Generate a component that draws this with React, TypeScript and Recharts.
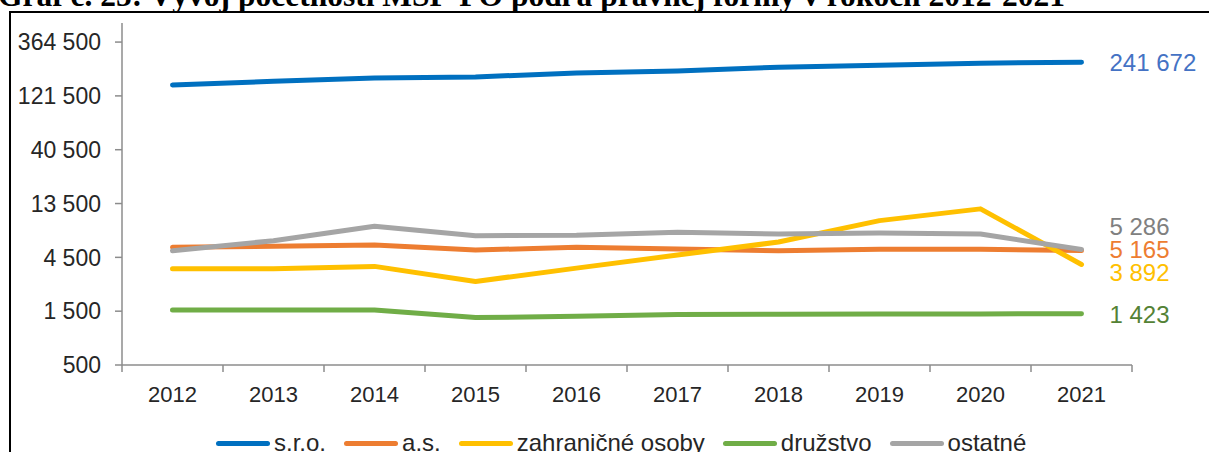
import React from 'react';
import { LineChart, Line, XAxis, YAxis } from 'recharts';

const years = [2012, 2013, 2014, 2015, 2016, 2017, 2018, 2019, 2020, 2021];
const sro = [151800, 163700, 175200, 178800, 194100, 202200, 218200, 227300, 236900, 241672];
const as = [5525, 5640, 5790, 5227, 5525, 5334, 5150, 5302, 5302, 5165];
const zahranicne = [3562, 3562, 3742, 2752, 3613, 4717, 6157, 9527, 12110, 3892];
const druzstvo = [1537, 1537, 1537, 1316, 1351, 1399, 1408, 1415, 1418, 1423];
const ostatne = [5150, 6325, 8495, 7005, 7065, 7510, 7255, 7405, 7255, 5286];

const yTicks = [500, 1500, 4500, 13500, 40500, 121500, 364500];
const xTicks = [2011.5, 2012, 2012.5, 2013, 2013.5, 2014, 2014.5, 2015, 2015.5, 2016, 2016.5, 2017, 2017.5, 2018, 2018.5, 2019, 2019.5, 2020, 2020.5, 2021, 2021.5];

const title = 'Graf č. 25: Vývoj početnosti MSP-PO podľa právnej formy v rokoch 2012-2021';

const series = [
  { key: 'sro', name: 's.r.o.', values: sro, color: '#0070C0', labelColor: '#4472C4', labelDy: 0 },
  { key: 'as', name: 'a.s.', values: as, color: '#ED7D31', labelColor: '#ED7D31', labelDy: -1 },
  { key: 'zahr', name: 'zahraničné osoby', values: zahranicne, color: '#FFC000', labelColor: '#FFC000', labelDy: 8 },
  { key: 'druz', name: 'družstvo', values: druzstvo, color: '#70AD47', labelColor: '#548235', labelDy: 1 },
  { key: 'ost', name: 'ostatné', values: ostatne, color: '#A5A5A5', labelColor: '#808080', labelDy: -23 },
];

const data = years.map((year, i) => {
  const row: Record<string, number> = { year };
  series.forEach((s) => {
    row[s.key] = s.values[i];
  });
  return row;
});

const fmt = (v: number) => String(Math.round(v)).replace(/\B(?=(\d{3})+(?!\d))/g, ' ');

const FONT = '"Liberation Sans", Arial, sans-serif';
const AXIS = '#8C8C8C';
const TEXT = '#262626';

const XTick = (props: any) => {
  const { x, y, payload } = props;
  const v = payload.value;
  if (Number.isInteger(v)) {
    return (
      <text x={x} y={y + 36.5} textAnchor="middle" fontFamily={FONT} fontSize={22} fill={TEXT}>
        {v}
      </text>
    );
  }
  return <line x1={x} x2={x} y1={y} y2={y + 7} stroke={AXIS} strokeWidth={1.5} />;
};

const makeLabel = (color: string, dy: number) => (props: any) => {
  const { x, y, index, value } = props;
  if (index !== years.length - 1) return <g />;
  return (
    <text
      x={x + 28}
      y={y + dy}
      dy="0.36em"
      textAnchor="start"
      fontFamily={FONT}
      fontSize={24}
      fill={color}
    >
      {fmt(value)}
    </text>
  );
};

export default function App() {
  return (
    <div style={{ position: 'absolute', left: 0, top: 0, width: 1209, height: 452, overflow: 'hidden', background: '#fff' }}>
      <LineChart
        width={1209}
        height={452}
        data={data}
        margin={{ top: 23, right: 77, left: 0, bottom: 57 }}
      >
        <XAxis
          dataKey="year"
          type="number"
          domain={[2011.5, 2021.5]}
          ticks={xTicks}
          interval={0}
          tickSize={0}
          tickMargin={0}
          tickLine={false}
          axisLine={{ stroke: AXIS, strokeWidth: 1.5 }}
          tick={XTick}
          height={30}
          allowDataOverflow
        />
        <YAxis
          type="number"
          scale="log"
          domain={[500, 538000]}
          ticks={yTicks}
          interval={0}
          allowDataOverflow
          width={122}
          tickSize={7}
          tickMargin={14}
          tickLine={{ stroke: AXIS, strokeWidth: 1.5 }}
          axisLine={{ stroke: AXIS, strokeWidth: 1.5 }}
          tick={{ fontFamily: FONT, fontSize: 23, fill: TEXT }}
          tickFormatter={fmt}
        />
        {series.map((s) => (
          <Line
            key={s.key}
            dataKey={s.key}
            name={s.name}
            stroke={s.color}
            strokeWidth={5}
            strokeLinecap="round"
            strokeLinejoin="round"
            dot={false}
            activeDot={false}
            type="linear"
            isAnimationActive={false}
            label={makeLabel(s.labelColor, s.labelDy)}
          />
        ))}
      </LineChart>
      <svg width={1209} height={452} style={{ position: 'absolute', left: 0, top: 0, pointerEvents: 'none' }}>
        <text x={-2} y={6} fontFamily='"Liberation Serif", "Times New Roman", serif' fontWeight="bold" fontSize={31.5} fill="#000">
          {title}
        </text>
        <rect x={10} y={12} width={1400} height={600} fill="none" stroke="#000" strokeWidth={2} />
      </svg>
      <div
        style={{
          position: 'absolute',
          left: 216,
          top: 429,
          display: 'flex',
          alignItems: 'center',
          gap: 18,
          fontFamily: FONT,
          fontSize: 24,
          color: TEXT,
          whiteSpace: 'nowrap',
          lineHeight: '28px',
        }}
      >
        {series.map((s) => (
          <div key={s.key} style={{ display: 'flex', alignItems: 'center', gap: 4 }}>
            <div style={{ width: 54, height: 5, borderRadius: 3, background: s.color }} />
            <span>{s.name}</span>
          </div>
        ))}
      </div>
    </div>
  );
}
